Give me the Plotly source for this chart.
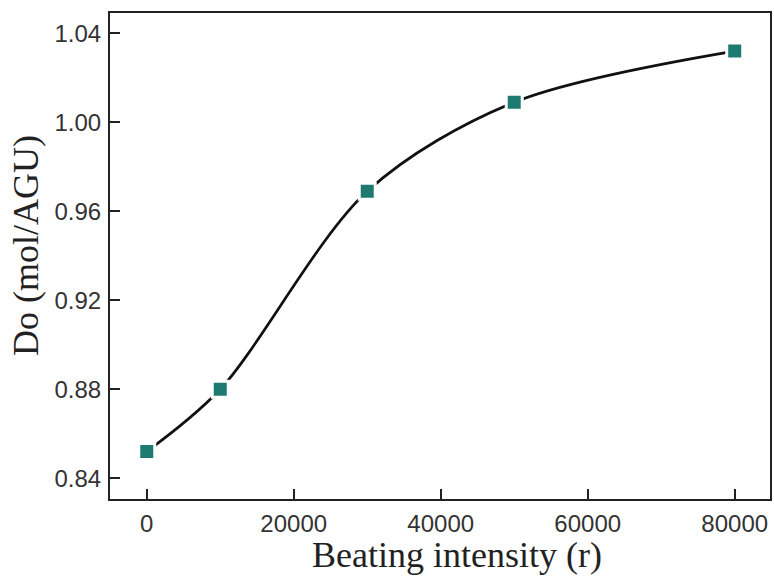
import plotly.graph_objects as go

beating_intensity = [0, 10000, 30000, 50000, 80000]
do_values = [0.852, 0.880, 0.969, 1.009, 1.032]

x_tick_vals = [0, 20000, 40000, 60000, 80000]
x_tick_text = ["0", "20000", "40000", "60000", "80000"]
y_tick_vals = [0.84, 0.88, 0.92, 0.96, 1.00, 1.04]
y_tick_text = ["0.84", "0.88", "0.92", "0.96", "1.00", "1.04"]

x_title = "Beating intensity (r)"
y_title = "Do (mol/AGU)"

fig = go.Figure()
fig.add_trace(go.Scatter(
    x=beating_intensity, y=do_values,
    mode="lines",
    line=dict(color="#111111", width=2.7, shape="spline", smoothing=0.9),
    hoverinfo="skip", showlegend=False,
))
fig.add_trace(go.Scatter(
    x=beating_intensity, y=do_values,
    mode="markers",
    marker=dict(symbol="square", size=16, color="#1c7a70",
                line=dict(color="white", width=3)),
    showlegend=False,
))

axis_common = dict(
    showline=True, linecolor="#222222", linewidth=2, mirror=True,
    ticks="inside", ticklen=10, tickwidth=2, tickcolor="#222222",
    showgrid=False, zeroline=False, automargin=False,
    tickfont=dict(family="Liberation Sans, Arial, sans-serif", size=24, color="#333333"),
)

title_font = dict(family="Liberation Serif, Times New Roman, serif", size=36, color="#222222")

fig.update_layout(
    width=774, height=578,
    margin=dict(l=110, r=4, t=13, b=79),
    paper_bgcolor="white", plot_bgcolor="white",
    xaxis=dict(
        range=[-5000, 84800],
        tickvals=x_tick_vals, ticktext=x_tick_text,
        ticklabelstandoff=2,
        **axis_common,
    ),
    yaxis=dict(
        range=[0.8307, 1.0491],
        tickvals=y_tick_vals, ticktext=y_tick_text,
        ticklabelstandoff=2,
        **axis_common,
    ),
    annotations=[
        dict(text=x_title, xref="paper", yref="paper",
             x=(457 - 110) / 660, y=-(555 - 499) / 486,
             xanchor="center", yanchor="middle", showarrow=False, font=title_font),
        dict(text=y_title, xref="paper", yref="paper", textangle=-90,
             x=-(110 - 26) / 660, y=(499 - 246) / 486,
             xanchor="center", yanchor="middle", showarrow=False, font=title_font),
    ],
)

# Remove the default 8px body margin so the figure fills the window exactly.
fig.write_html("out.html", config={"displayModeBar": False},
               post_script="document.body.style.margin='0';")
